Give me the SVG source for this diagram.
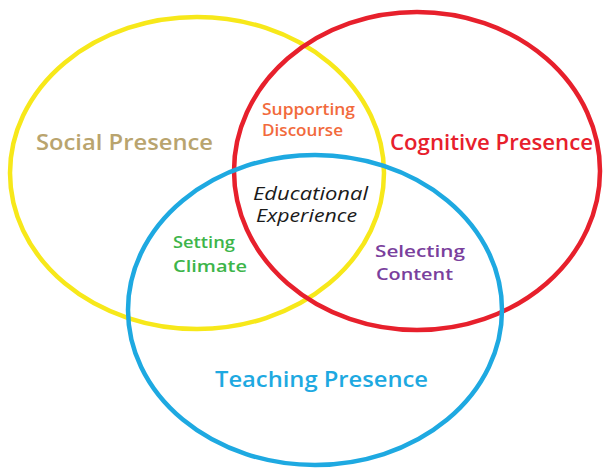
<svg xmlns="http://www.w3.org/2000/svg" width="607" height="468" viewBox="0 0 607 468">
<style>
.c{fill:none;stroke-width:4.5}
.t{font-family:"Open Sans","Liberation Sans",sans-serif;font-weight:600}
.big{font-size:22px}
.sm{font-size:17px}
.it{font-size:18px;font-style:italic;font-weight:500}
</style>
<rect width="607" height="468" fill="#ffffff"/>
<g id="social"><ellipse class="c" cx="197" cy="173" rx="187" ry="156" stroke="#F7E81A"/>
<text class="t big" x="36" y="150" textLength="177" lengthAdjust="spacingAndGlyphs" fill="#B9A46E">Social Presence</text></g>
<g id="cognitive"><ellipse class="c" cx="417" cy="171" rx="183" ry="159" stroke="#E7202C"/>
<text class="t big" x="390" y="150" textLength="203" lengthAdjust="spacingAndGlyphs" fill="#E7202C">Cognitive Presence</text></g>
<g id="teaching"><ellipse class="c" cx="315" cy="310" rx="187" ry="155" stroke="#1EA9E1"/>
<text class="t big" x="215" y="387" textLength="213" lengthAdjust="spacingAndGlyphs" fill="#1EA9E1">Teaching Presence</text></g>
<g id="discourse"><text class="t sm" x="262" y="115" textLength="93" lengthAdjust="spacingAndGlyphs" fill="#F26A3C">Supporting</text>
<text class="t sm" x="262" y="136" textLength="81" lengthAdjust="spacingAndGlyphs" fill="#F26A3C">Discourse</text></g>
<g id="experience"><text class="t it" x="253" y="200" textLength="115" lengthAdjust="spacingAndGlyphs" fill="#1a1a1a">Educational</text>
<text class="t it" x="256" y="222" textLength="101" lengthAdjust="spacingAndGlyphs" fill="#1a1a1a">Experience</text></g>
<g id="climate"><text class="t sm" x="173" y="248" textLength="62" lengthAdjust="spacingAndGlyphs" fill="#3DB54A">Setting</text>
<text class="t sm" x="173" y="272" textLength="74" lengthAdjust="spacingAndGlyphs" fill="#3DB54A">Climate</text></g>
<g id="content"><text class="t sm" x="375" y="257" textLength="90" lengthAdjust="spacingAndGlyphs" fill="#7A3F9D">Selecting</text>
<text class="t sm" x="376" y="280" textLength="77" lengthAdjust="spacingAndGlyphs" fill="#7A3F9D">Content</text></g>
<g id="connectors"></g>
</svg>
